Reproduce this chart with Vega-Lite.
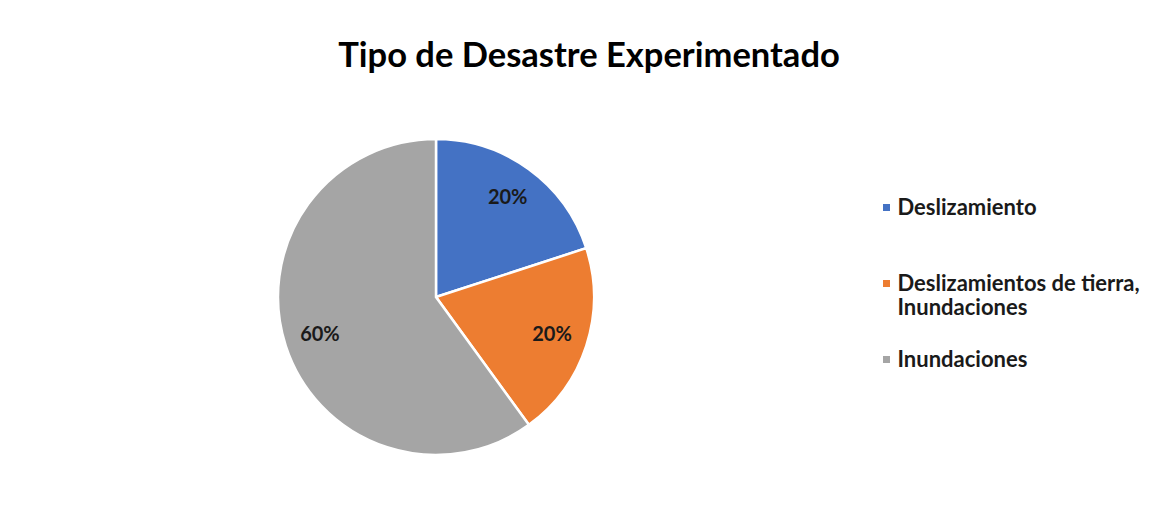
{
  "$schema": "https://vega.github.io/schema/vega-lite/v6.json",
  "autosize": "none",
  "width": 316,
  "height": 316,
  "padding": {"left": 278, "top": 139, "right": 578, "bottom": 51},
  "background": "white",
  "title": {
    "text": "Tipo de Desastre Experimentado",
    "font": "Lato",
    "fontSize": 34.5,
    "fontWeight": "bold",
    "color": "#000000",
    "anchor": "middle",
    "frame": "group",
    "baseline": "alphabetic",
    "offset": 33,
    "dx": 153
  },
  "data": {
    "values": [
      {"tipo": "Deslizamiento", "valor": 0.2},
      {"tipo": "Deslizamientos de tierra, Inundaciones", "valor": 0.2},
      {"tipo": "Inundaciones", "valor": 0.6}
    ]
  },
  "encoding": {
    "theta": {"field": "valor", "type": "quantitative", "stack": true},
    "color": {
      "field": "tipo",
      "type": "nominal",
      "sort": ["Deslizamiento", "Deslizamientos de tierra, Inundaciones", "Inundaciones"],
      "scale": {
        "domain": ["Deslizamiento", "Deslizamientos de tierra, Inundaciones", "Inundaciones"],
        "range": ["#4472C4", "#ED7D31", "#A5A5A5"]
      },
      "legend": {
        "title": null,
        "orient": "none",
        "legendX": 597.5,
        "legendY": 57.5,
        "symbolType": "square",
        "symbolSize": 49,
        "symbolStrokeWidth": 0,
        "labelFont": "Lato",
        "labelFontSize": 22,
        "labelFontWeight": "bold",
        "labelColor": "#1a1a1a",
        "labelLimit": 400,
        "labelOffset": 0,
        "padding": 0,
        "rowPadding": 30,
        "gridAlign": "all",
        "labelExpr": "datum.label == 'Deslizamientos de tierra, Inundaciones' ? ['Deslizamientos de tierra,', 'Inundaciones'] : datum.label",
        "encode": {
          "labels": {
            "lineHeight": {"value": 27}
          }
        }
      }
    },
    "order": {"field": "tipo", "sort": "ascending"}
  },
  "layer": [
    {
      "mark": {"type": "arc", "outerRadius": 158, "stroke": "white", "strokeWidth": 2.5}
    },
    {
      "mark": {"type": "text", "radius": 122, "font": "Lato", "fontSize": 20, "fontWeight": "bold", "fill": "#1a1a1a"},
      "encoding": {
        "text": {"field": "valor", "type": "quantitative", "format": ".0%"},
        "color": {"value": "#1a1a1a"}
      }
    }
  ],
  "config": {"view": {"stroke": null}}
}
